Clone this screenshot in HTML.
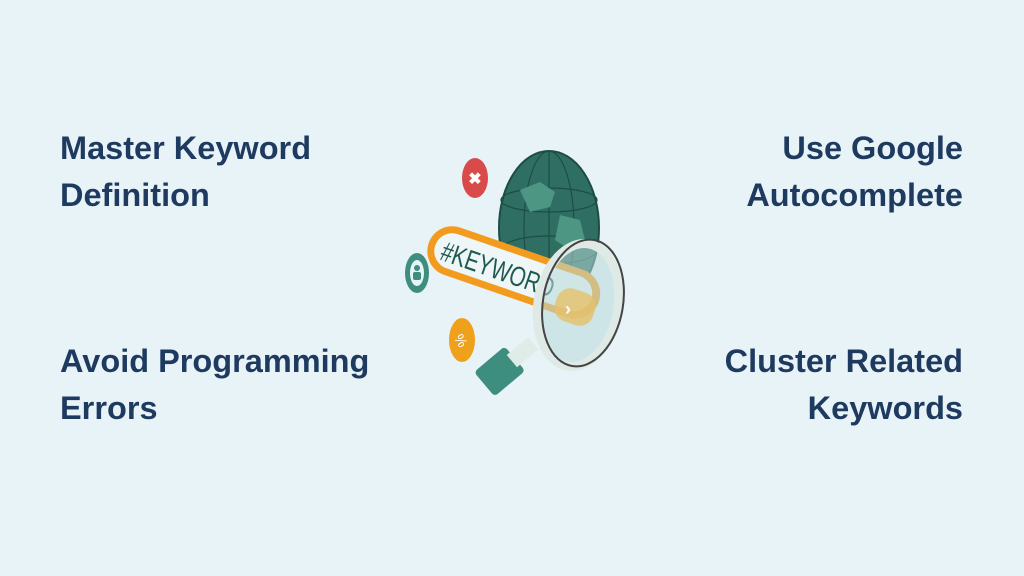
<!DOCTYPE html>
<html><head><meta charset="utf-8"><style>
body{margin:0;width:1024px;height:576px;background:#e8f3f8;overflow:hidden;position:relative;font-family:"Liberation Sans",sans-serif;}
.t{position:absolute;font-weight:bold;font-size:32.5px;line-height:47px;color:#1e3a5f;}
.l{left:60px}.r{right:61px;text-align:right}
</style></head><body>
<div class="t l" style="top:125px">Master Keyword<br>Definition</div>
<div class="t r" style="top:125px">Use Google<br>Autocomplete</div>
<div class="t l" style="top:338px">Avoid Programming<br>Errors</div>
<div class="t r" style="top:338px">Cluster Related<br>Keywords</div>
<svg width="1024" height="576" style="position:absolute;left:0;top:0">
<ellipse cx="549" cy="228" rx="50" ry="77" fill="#2f6f63"/>
<ellipse cx="549" cy="228" rx="50" ry="77" fill="none" stroke="#1e4d45" stroke-width="2"/>
<ellipse cx="549" cy="228" rx="25" ry="77" fill="none" stroke="#1e4d45" stroke-width="1.2"/>
<line x1="549" y1="151" x2="549" y2="305" stroke="#1e4d45" stroke-width="1.2"/>
<ellipse cx="549" cy="200" rx="48" ry="12" fill="none" stroke="#1e4d45" stroke-width="1.2"/>
<ellipse cx="549" cy="250" rx="48" ry="14" fill="none" stroke="#1e4d45" stroke-width="1.2"/>
<path d="M520 190 l20 -8 l15 10 l-5 15 l-20 5z M560 215 l20 5 l5 20 l-15 10 l-15 -10z" fill="#4d9683"/>
<ellipse cx="475" cy="178" rx="13" ry="20" fill="#d94a4a"/>
<text x="475" y="184" font-size="16" font-weight="bold" fill="#fff" text-anchor="middle" font-family="Liberation Sans">✖</text>
<ellipse cx="417" cy="273" rx="12" ry="20" fill="#3d8e7f"/>
<ellipse cx="417" cy="273" rx="7" ry="13" fill="#e8f3f8"/>
<circle cx="417" cy="268" r="3" fill="#3d8e7f"/>
<rect x="413" y="272" width="8" height="8" rx="2" fill="#3d8e7f"/>
<ellipse cx="462" cy="340" rx="13" ry="22" fill="#f0a11c"/>
<text x="462" y="346" font-size="14" fill="#fff" text-anchor="middle" font-family="Liberation Sans" transform="rotate(60 462 340)">%</text>
<g transform="rotate(19 435 240)">
<rect x="430" y="220" width="180" height="50" rx="25" fill="#f29b1f"/>
<rect x="437" y="227" width="165" height="36" rx="18" fill="#eef6f7"/>
<text x="445" y="257" font-size="28" fill="#1e5a50" font-family="Liberation Sans" textLength="118" lengthAdjust="spacingAndGlyphs">#KEYWORD</text>
</g>
<g transform="rotate(-40 500 375)">
<rect x="482" y="356" width="40" height="32" rx="4" fill="#3d8e7f"/>
<rect x="518" y="364" width="28" height="16" fill="#e0ece8"/>
</g>
<ellipse cx="578" cy="305" rx="40" ry="62" transform="rotate(10 578 305)" fill="#b8d8d8" fill-opacity="0.55"/>
<ellipse cx="578" cy="305" rx="40" ry="62" transform="rotate(10 578 305)" fill="none" stroke="#dfeae6" stroke-width="9"/>
<ellipse cx="583" cy="303" rx="40" ry="64" transform="rotate(10 583 303)" fill="none" stroke="#444" stroke-width="2"/>
<rect x="555" y="290" width="40" height="34" rx="14" fill="#e5c06a" opacity="0.8" transform="rotate(19 575 307)"/>
<text x="565" y="315" font-size="18" fill="#fff" font-weight="bold" font-family="Liberation Sans">›</text>
</svg>
</body></html>
